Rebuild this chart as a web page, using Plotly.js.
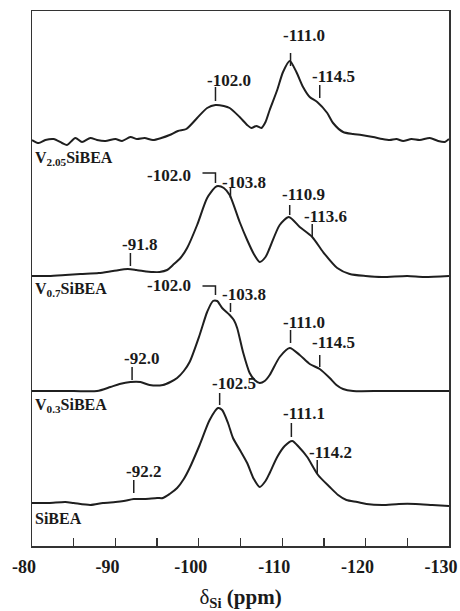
<!DOCTYPE html>
<html><head><meta charset="utf-8">
<script src="https://cdn.plot.ly/plotly-3.0.1.min.js"></script>
<style>html,body{margin:0;padding:0;background:#fff}</style>
</head><body><div id="chart" style="width:460px;height:611px"></div>
<script>
// ---------- DATA ----------
const sampleNames = ["V<sub>2.05</sub>SiBEA", "V<sub>0.7</sub>SiBEA", "V<sub>0.3</sub>SiBEA", "SiBEA"];

const ppm_V205 = [-80,-80.8,-81.6,-82.6,-83.6,-84.2,-85.2,-86,-87,-87.8,-88.8,-90,-90.8,-91.8,-92.6,-93.5,-94.5,-95.5,-96.5,-97.5,-98.5,-99.8,-101,-102,-103,-103.7,-104.9,-105.8,-106.3,-106.9,-107.5,-108,-108.5,-109.4,-110.1,-110.9,-111.7,-112.5,-113.3,-114.2,-115.4,-116.1,-117.3,-118.5,-119.5,-120.9,-122,-122.9,-123.7,-124.5,-125.5,-126.5,-127.7,-128.7,-129.5,-130];
const int_V205 = [0,-3,0,1,-3,-5,2,-2,2,0,-1,1,-1,3,1,2,0,2,5,9,11,22,32,35,34,32,23,15,12,14,12,18,30,50,68,79,68,53,43,38,27,17,8,6,5,3,1,0,1,-1,1,0,2,-1,-2,1];

const ppm_V07 = [-80,-82,-84,-85.8,-88,-89.7,-91.5,-92.5,-93.3,-94.5,-95.3,-96.2,-96.9,-97.8,-98.6,-99.8,-101,-102,-102.3,-103,-103.7,-104.9,-105.8,-106.6,-107.3,-108,-108.5,-109.7,-110.8,-112.1,-113.6,-114.9,-116.6,-118.1,-120,-122,-125,-127,-130];
const int_V07 = [0,0,1,2,3,5,7,6,5,4,4,6,11,18,28,51,78,89,90,88,81,54,36,22,14,19,28,51,59,49,39,24,8,2,0,-1,0,-1,0];

const ppm_V03 = [-80,-82,-85,-87.8,-89.4,-90.5,-91.8,-93,-94.1,-95.7,-96.6,-97.4,-98.2,-98.9,-100.1,-101,-101.7,-102.2,-102.8,-103.7,-104.2,-104.6,-105.3,-106.1,-106.7,-107.3,-107.9,-108.5,-109.7,-110.9,-112.1,-113.3,-114.5,-115.7,-116.5,-117.3,-118.5,-122,-126,-130];
const int_V03 = [0,0,0,0,4,7,9,9,6,6,9,13,20,29,56,79,90,90,83,76,71,63,39,18,11,8,10,16,34,43,36,27,22,13,6,2,0,0,0,0];

const ppm_Si = [-80,-82,-84,-85,-87,-88.5,-90,-91,-92.2,-93.5,-95,-95.7,-96.5,-97.4,-98.2,-98.9,-100.1,-101.3,-102.3,-102.8,-103.5,-104.1,-105,-105.8,-106.6,-107.3,-108,-108.5,-109.4,-110.3,-111.2,-112,-113,-114.3,-115.7,-116.7,-117.7,-119,-120.1,-122,-124,-126,-128,-130];
const int_Si = [0,0,1,0,-2,0,1,2,4,4,5,5,9,15,24,35,58,83,95,93,80,65,52,40,24,16,22,30,46,57,62,56,46,28,16,8,3,1,-1,-2,-1,-1,-2,-3];

const peakLabels = [
  ["-102.0","-111.0","-114.5"],
  ["-91.8","-102.0","-103.8","-110.9","-113.6"],
  ["-92.0","-102.0","-103.8","-111.0","-114.5"],
  ["-92.2","-102.5","-111.1","-114.2"]
];

const xTickVals = [-80,-90,-100,-110,-120,-130];
const xTickText = ["-80","-90","-100","-110","-120","-130"];

// ---------- LAYOUT / STYLE ----------
const W = 460, H = 611, ML = 32, MR = 11, MT = 11, MB = 65;
const plotH = H - MT - MB;
const pxPerPpm = (W - ML - MR) / 50;
const offsets = [406, 270, 155, 43];
const Y = py => (H - MB) - py;            // pixel row -> y data units
const lineColor = '#1f1f1f';
const font = 'Liberation Serif, Times New Roman, serif';

// label placement (pixel rows): [textY, tickTop, tickBottom, bracket?]
const labelPos = [
  [[80,87,101],[35,53,66],[76,85,98]],
  [[244,253,266],[175,173,183,'b'],[182,188,198],[194,205,215],[216,224,237]],
  [[358,367,380],[285,286,295,'b'],[294,303,312],[322,330,343],[342,355,367]],
  [[471,480,493],[383,393,405],[413,423,437],[452,460,473]]
];
const namePos = [158, 289, 405, 518];

const series = [[ppm_V205,int_V205],[ppm_V07,int_V07],[ppm_V03,int_V03],[ppm_Si,int_Si]];
const traces = series.map((s, i) => ({
  x: s[0], y: s[1].map(v => v + offsets[i]),
  type: 'scatter', mode: 'lines',
  line: {color: lineColor, width: 2, shape: 'spline', smoothing: 0.7},
  hoverinfo: 'skip', showlegend: false
}));

const annotations = [], shapes = [];
peakLabels.forEach((labs, i) => {
  labs.forEach((lab, j) => {
    const v = parseFloat(lab);
    const p = labelPos[i][j];
    if (p[3] === 'b') {
      annotations.push({x: v, y: Y(p[0]), xref: 'x', yref: 'y', text: '<b>' + lab + '</b>',
        showarrow: false, xanchor: 'right', yanchor: 'middle', xshift: -22,
        font: {family: font, size: 17, color: '#1a1a1a'}});
      shapes.push({type: 'path', xref: 'x', yref: 'y',
        path: `M ${v + 13 / pxPerPpm} ${Y(p[1])} L ${v} ${Y(p[1])} L ${v} ${Y(p[2])}`,
        line: {color: lineColor, width: 1.5}});
    } else {
      annotations.push({x: v, y: Y(p[0]), xref: 'x', yref: 'y', text: '<b>' + lab + '</b>',
        showarrow: false, xanchor: 'left', yanchor: 'middle', xshift: -10,
        font: {family: font, size: 17, color: '#1a1a1a'}});
      shapes.push({type: 'line', xref: 'x', yref: 'y', x0: v, x1: v, y0: Y(p[1]), y1: Y(p[2]),
        line: {color: lineColor, width: 1.5}});
    }
  });
});
sampleNames.forEach((n, i) => {
  annotations.push({x: 0, xref: 'paper', y: Y(namePos[i]), yref: 'y', text: '<b>' + n + '</b>',
    showarrow: false, xanchor: 'left', yanchor: 'middle', xshift: 1,
    font: {family: font, size: 16, color: '#1a1a1a'}});
});

const layout = {
  width: W, height: H,
  margin: {l: ML, r: MR, t: MT, b: MB},
  paper_bgcolor: '#fff', plot_bgcolor: '#fff',
  xaxis: {
    range: [-80, -130], tickmode: 'array', tickvals: xTickVals,
    ticktext: xTickText.map(t => '<b>' + t + '</b>'),
    ticks: 'inside', ticklen: 8, tickwidth: 1.3, tickcolor: '#333',
    minor: {tick0: -80, dtick: 5, ticks: 'inside', ticklen: 8, tickwidth: 1.3, tickcolor: '#333', showgrid: false},
    showline: true, mirror: true, linewidth: 1.5, linecolor: '#333',
    showgrid: false, zeroline: false, ticklabelshift: 8, ticklabelstandoff: 4,
    tickfont: {family: font, size: 18, color: '#1a1a1a'},
    title: {text: 'δ<sub><b>Si</b></sub> <b>(ppm)</b>', standoff: 14,
      font: {family: font, size: 21, color: '#1a1a1a'}}
  },
  yaxis: {
    range: [0, plotH], showticklabels: false, ticks: '',
    showline: true, mirror: true, linewidth: 1.5, linecolor: '#333',
    showgrid: false, zeroline: false
  },
  annotations, shapes
};

Plotly.newPlot('chart', traces, layout, {staticPlot: true, displayModeBar: false});
</script>
</body></html>
